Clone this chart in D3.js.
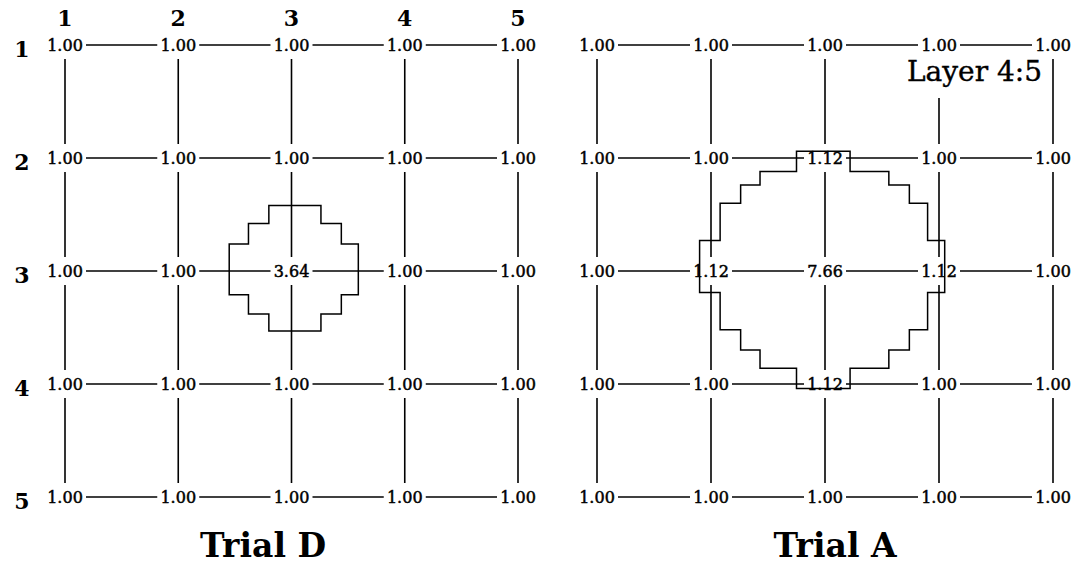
<!DOCTYPE html>
<html>
<head>
<meta charset="utf-8">
<script src="https://cdn.jsdelivr.net/npm/d3@7"></script>
<style>
  body { margin: 0; background: #fff; }
  svg { display: block; }
</style>
</head>
<body>
<svg id="chart" width="1085" height="571"></svg>
<script>
// grid labels
var cols = [1, 2, 3, 4, 5];
var rows = [1, 2, 3, 4, 5];

// node values, row by row
var trialD = [
  [1.00, 1.00, 1.00, 1.00, 1.00],
  [1.00, 1.00, 1.00, 1.00, 1.00],
  [1.00, 1.00, 3.64, 1.00, 1.00],
  [1.00, 1.00, 1.00, 1.00, 1.00],
  [1.00, 1.00, 1.00, 1.00, 1.00]
];
var trialA = [
  [1.00, 1.00, 1.00, 1.00, 1.00],
  [1.00, 1.00, 1.12, 1.00, 1.00],
  [1.00, 1.12, 7.66, 1.12, 1.00],
  [1.00, 1.00, 1.12, 1.00, 1.00],
  [1.00, 1.00, 1.00, 1.00, 1.00]
];

// stepped outline of the region, in grid units (col, row)
var outlineD = [
  [2.80, 2.42], [3.26, 2.42], [3.26, 2.58], [3.44, 2.58], [3.44, 2.76],
  [3.59, 2.76], [3.59, 3.21], [3.44, 3.21], [3.44, 3.38], [3.26, 3.38],
  [3.26, 3.53], [2.80, 3.53], [2.80, 3.38], [2.62, 3.38], [2.62, 3.21],
  [2.45, 3.21], [2.45, 2.76], [2.62, 2.76], [2.62, 2.58], [2.80, 2.58]
];
var outlineA = [
  [2.75, 1.94], [3.22, 1.94], [3.22, 2.12], [3.56, 2.12], [3.56, 2.24],
  [3.74, 2.24], [3.74, 2.40], [3.90, 2.40], [3.90, 2.73], [4.05, 2.73],
  [4.05, 3.19], [3.90, 3.19], [3.90, 3.52], [3.74, 3.52], [3.74, 3.70],
  [3.56, 3.70], [3.56, 3.86], [3.22, 3.86], [3.22, 4.04], [2.75, 4.04],
  [2.75, 3.86], [2.43, 3.86], [2.43, 3.70], [2.26, 3.70], [2.26, 3.52],
  [2.08, 3.52], [2.08, 3.19], [1.90, 3.19], [1.90, 2.73], [2.08, 2.73],
  [2.08, 2.40], [2.26, 2.40], [2.26, 2.24], [2.43, 2.24], [2.43, 2.12],
  [2.75, 2.12]
];

var svg = d3.select("#chart");
var fmt = d3.format(".2f");
var serif = "'DejaVu Serif', serif";

var y = d3.scalePoint().domain(rows).range([45, 497]);
var yc = d3.scaleLinear().domain([1, 5]).range([45, 497]);

/*
draws one grid of values with connecting lines and the outline

x0, x1: x of first and last column
values: 5x5 values
outline: outline points in grid units
*/
function drawGrid(x0, x1, values, outline){
  var x = d3.scalePoint().domain(cols).range([x0, x1]);
  var xc = d3.scaleLinear().domain([1, 5]).range([x0, x1]);
  var g = svg.append("g");
  var gapX = 21, gapY = 14;

  // horizontal links
  rows.forEach(function(r){
    for(var i = 0; i < cols.length - 1; i++){
      g.append("line")
        .attr("x1", x(cols[i]) + gapX).attr("x2", x(cols[i + 1]) - gapX)
        .attr("y1", y(r)).attr("y2", y(r))
        .style("stroke", "black").style("stroke-width", 1.6);
    }
  });
  // vertical links
  cols.forEach(function(c){
    for(var j = 0; j < rows.length - 1; j++){
      g.append("line")
        .attr("x1", x(c)).attr("x2", x(c))
        .attr("y1", y(rows[j]) + gapY).attr("y2", y(rows[j + 1]) - gapY)
        .style("stroke", "black").style("stroke-width", 1.6);
    }
  });

  g.append("path")
    .attr("d", d3.line().x(function(p){ return xc(p[0]); }).y(function(p){ return yc(p[1]); })(outline) + "Z")
    .style("fill", "none").style("stroke", "black").style("stroke-width", 1.5);

  rows.forEach(function(r, j){
    cols.forEach(function(c, i){
      g.append("text")
        .attr("x", x(c)).attr("y", y(r))
        .attr("text-anchor", "middle").attr("dy", "0.36em")
        .style("font-family", serif).style("font-size", "16px")
        .style("stroke", "black").style("stroke-width", 0.5)
        .text(fmt(values[j][i]));
    });
  });
  return x;
}

var xD = drawGrid(65, 518, trialD, outlineD);
var xA = drawGrid(597, 1053, trialA, outlineA);

// column headers and row labels
svg.selectAll(".colHead").data(cols).enter().append("text")
  .attr("x", function(d){ return xD(d); }).attr("y", 26)
  .attr("text-anchor", "middle")
  .style("font-family", serif).style("font-size", "22px").style("font-weight", "bold")
  .text(function(d){ return d; });

svg.selectAll(".rowHead").data(rows).enter().append("text")
  .attr("x", 22).attr("y", function(d){ return y(d) + 4; })
  .attr("text-anchor", "middle").attr("dy", "0.36em")
  .style("font-family", serif).style("font-size", "22px").style("font-weight", "bold")
  .text(function(d){ return d; });

// layer label over the grid
var layer = svg.append("g");
layer.append("rect")
  .attr("x", 898).attr("y", 54).attr("width", 146).attr("height", 44)
  .style("fill", "white");
layer.append("text")
  .attr("x", 1042).attr("y", 81).attr("text-anchor", "end")
  .style("font-family", serif).style("font-size", "28px")
  .style("stroke", "black").style("stroke-width", 0.4)
  .text("Layer 4:5");

// titles
svg.append("text").attr("x", 263).attr("y", 557).attr("text-anchor", "middle")
  .style("font-family", serif).style("font-size", "33px").style("font-weight", "bold")
  .text("Trial D");
svg.append("text").attr("x", 835).attr("y", 557).attr("text-anchor", "middle")
  .style("font-family", serif).style("font-size", "33px").style("font-weight", "bold")
  .text("Trial A");
</script>
</body>
</html>
